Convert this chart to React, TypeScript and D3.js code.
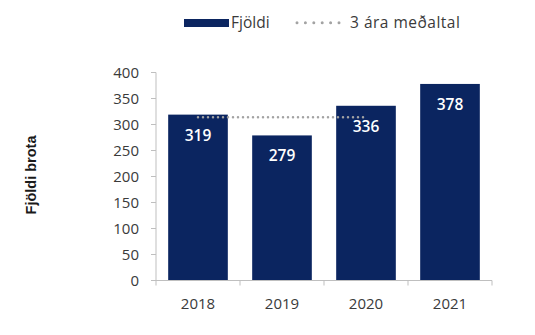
import React from "react";
import * as d3 from "d3";

const years = ["2018", "2019", "2020", "2021"];
const counts = [319, 279, 336, 378];
const avgYears = ["2018", "2019", "2020"];
const avgValues = [314, 314, 314];
const yTicks = [0, 50, 100, 150, 200, 250, 300, 350, 400];
const barLabel = "Fjöldi";
const avgLabel = "3 ára meðaltal";
const yTitle = "Fjöldi brota";

const NAVY = "#0b2560";
const AXIS = "#bfbfbf";
const TEXT = "#3a3a3a";
const DOT = "#a3a3a3";
const FONT = "'Open Sans', sans-serif";

export default function App() {
  const W = 535, H = 335;
  const x = d3.scaleBand<string>().domain(years).range([156, 492]).paddingInner(0.29).paddingOuter(0.145);
  const y = d3.scaleLinear().domain([0, 400]).range([280.5, 72.5]);
  const step = x.step();
  const cx = (k: string) => (x(k) as number) + x.bandwidth() / 2;
  const line = d3.line<number>().x((_, i) => cx(avgYears[i])).y((v) => y(v));
  const boundaries = d3.range(years.length + 1).map((i) => 156 + i * step);

  return (
    <svg width={W} height={H} style={{ position: "absolute", left: 0, top: 0, background: "#fff" }}>
      {/* legend */}
      <rect x={184} y={19} width={45} height={8} fill={NAVY} />
      <text x={231} y={27.5} fontFamily={FONT} fontSize={15.5} fill={TEXT}>{barLabel}</text>
      <line x1={297} x2={342} y1={22.7} y2={22.7} stroke={DOT} strokeWidth={3} strokeDasharray="0 8.4" strokeLinecap="round" />
      <text x={350} y={27.5} fontFamily={FONT} fontSize={15.5} letterSpacing={0.5} fill={TEXT}>{avgLabel}</text>

      {/* y title */}
      <text transform={`translate(36,175) rotate(-90)`} textAnchor="middle" fontFamily="'Liberation Sans', Arial, sans-serif" fontWeight="bold" fontSize={14.5} fill="#1a1a1a">{yTitle}</text>

      {/* y axis */}
      <line x1={156} x2={156} y1={y(400)} y2={y(0)} stroke={AXIS} strokeWidth={1} />
      {yTicks.map((t) => (
        <g key={t}>
          <line x1={151} x2={156} y1={y(t)} y2={y(t)} stroke={AXIS} strokeWidth={1} />
          <text x={139} y={y(t)} dy="0.35em" textAnchor="end" fontFamily={FONT} fontSize={15} fill={TEXT}>{t}</text>
        </g>
      ))}

      {/* bars */}
      {years.map((k, i) => (
        <rect key={k} x={x(k)} y={y(counts[i])} width={x.bandwidth()} height={y(0) - y(counts[i])} fill={NAVY} />
      ))}

      {/* average line */}
      <path d={line(avgValues) || ""} fill="none" stroke={DOT} strokeWidth={2.5} strokeDasharray="0 5" strokeLinecap="round" />

      {/* bar labels */}
      {years.map((k, i) => (
        <text key={k} x={cx(k)} y={y(counts[i]) + 26} textAnchor="middle" fontFamily={FONT} fontWeight={600} fontSize={15.5} fill="#ffffff">{counts[i]}</text>
      ))}

      {/* x axis */}
      <line x1={156} x2={492} y1={y(0)} y2={y(0)} stroke={AXIS} strokeWidth={1} />
      {boundaries.map((b, i) => (
        <line key={i} x1={b} x2={b} y1={y(0)} y2={y(0) + 5} stroke={AXIS} strokeWidth={1} />
      ))}
      {years.map((k) => (
        <text key={k} x={cx(k)} y={309} textAnchor="middle" fontFamily={FONT} fontSize={15} fill={TEXT}>{k}</text>
      ))}
    </svg>
  );
}
